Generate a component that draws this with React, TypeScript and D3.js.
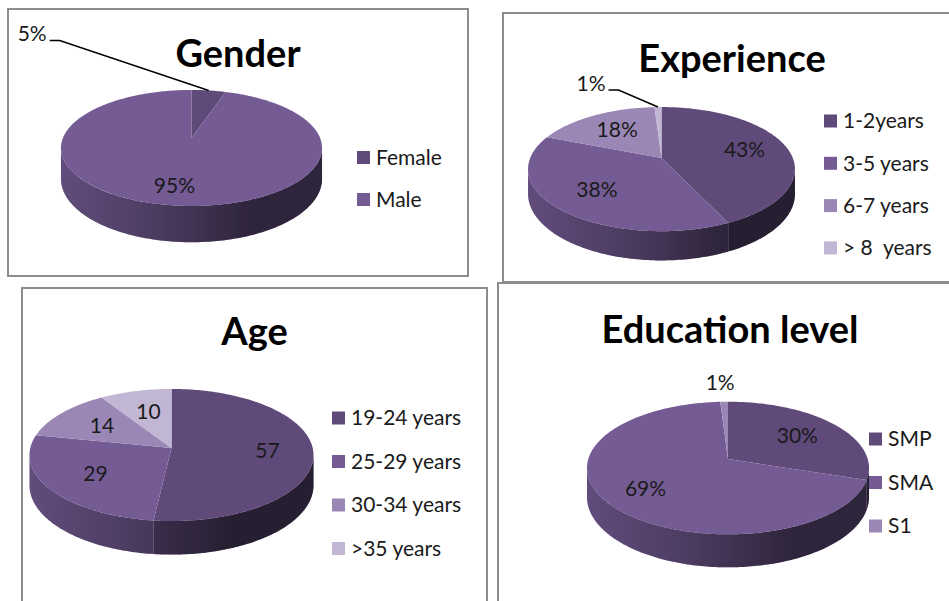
import React, { useEffect, useRef } from 'react';
import * as d3 from 'd3';

// four 3D-looking pies, Excel style

const genderNames = ['Female', 'Male'];
const genderValues = [5, 95];

const experienceNames = ['1-2years', '3-5 years', '6-7 years', '> 8  years'];
const experienceValues = [43, 38, 18, 1];

const ageNames = ['19-24 years', '25-29 years', '30-34 years', '>35 years'];
const ageValues = [57, 29, 14, 10];

const educationNames = ['SMP', 'SMA', 'S1'];
const educationValues = [30, 69, 1];

const purples = ['#5f4a7a', '#745b94', '#9b87b6', '#c1b6d3'];

const panels = [
  {
    id: 'gender', title: 'Gender', names: genderNames, values: genderValues, pct: true,
    box: [8, 9, 460, 267], titleX: 238, titleY: 67,
    pie: { cx: 191.5, cy: 138, a: 128.6, b: 56.3, k: 0.172, depth: 30 },
    legend: { x: 357, y: 157.5, gap: 42 }, leader: [-149, -50],
  },
  {
    id: 'experience', title: 'Experience', names: experienceNames, values: experienceValues, pct: true,
    box: [503, 13, 460, 269], titleX: 732, titleY: 72,
    pie: { cx: 661.5, cy: 158, a: 131.3, b: 60.1, k: 0.179, depth: 24 },
    legend: { x: 824, y: 121, gap: 42.3 }, leader: [-39.5, -17],
  },
  {
    id: 'age', title: 'Age', names: ageNames, values: ageValues, pct: false,
    box: [22, 288, 465, 330], titleX: 254.5, titleY: 345,
    pie: { cx: 171.5, cy: 448, a: 141.2, b: 65.3, k: 0.106, depth: 30 },
    legend: { x: 332, y: 418, gap: 43.5 }, leader: null,
  },
  {
    id: 'education', title: 'Education level', names: educationNames, values: educationValues, pct: true,
    box: [498, 283, 470, 330], titleX: 730, titleY: 343,
    pie: { cx: 728, cy: 459, a: 139.7, b: 65.1, k: 0.136, depth: 28.5 },
    legend: { x: 869, y: 439, gap: 43.5 }, leader: null,
  },
];

const FONT = 'Lato, "Open Sans", sans-serif';

// perspective projection of a point on the unit disc (t clockwise from top)
const project = (p, t, r, h) => {
  const u = Math.sin(t) * r;
  const v = -Math.cos(t) * r;
  const w = 1 - p.k * v;
  return [p.cx + (p.a * u) / w, p.cy + (p.b * v + h) / w];
};

const arcPoints = (p, t0, t1, h) => {
  const n = Math.max(2, Math.ceil(((t1 - t0) * 180) / Math.PI));
  return d3.range(n + 1).map(i => project(p, t0 + ((t1 - t0) * i) / n, 1, h));
};

const App = () => {
  const svgRef = useRef(null);

  useEffect(() => {
    const svg = d3.select(svgRef.current);
    svg.selectAll('*').remove();
    const defs = svg.append('defs');
    const line = d3.line();

    panels.forEach(panel => {
      const p = panel.pie;
      const g = svg.append('g');

      g.append('rect')
        .attr('x', panel.box[0]).attr('y', panel.box[1])
        .attr('width', panel.box[2]).attr('height', panel.box[3])
        .attr('fill', 'none').attr('stroke', '#8c8c8c').attr('stroke-width', 2);

      g.append('text')
        .attr('x', panel.titleX).attr('y', panel.titleY)
        .attr('text-anchor', 'middle')
        .attr('font-family', FONT).attr('font-weight', 700).attr('font-size', 38)
        .attr('fill', '#000')
        .text(panel.title);

      const arcs = d3.pie().sort(null).value(d => d)(panel.values);
      const total = d3.sum(panel.values);

      // side shading gradient
      const gid = `shade-${panel.id}`;
      const grad = defs.append('linearGradient').attr('id', gid)
        .attr('gradientUnits', 'userSpaceOnUse')
        .attr('x1', p.cx - p.a * 1.03).attr('x2', p.cx + p.a * 1.03)
        .attr('y1', 0).attr('y2', 0);
      [[0, 0.16], [0.35, 0.34], [0.5, 0.44], [0.72, 0.6], [1, 0.6]].forEach(([o, a]) => {
        grad.append('stop').attr('offset', o).attr('stop-color', '#000').attr('stop-opacity', a);
      });

      const tR = Math.acos(-p.k);
      const tL = 2 * Math.PI - tR;

      arcs.forEach((d, i) => {
        const s = Math.max(d.startAngle, tR);
        const e = Math.min(d.endAngle, tL);
        if (s >= e) return;
        const pts = arcPoints(p, s, e, 0).concat(arcPoints(p, s, e, p.depth).reverse());
        g.append('path').attr('d', line(pts) + 'Z').attr('fill', purples[i]);
        g.append('path').attr('d', line(pts) + 'Z').attr('fill', `url(#${gid})`);
      });

      arcs.forEach((d, i) => {
        const pts = [[p.cx, p.cy]].concat(arcPoints(p, d.startAngle, d.endAngle, 0));
        g.append('path').attr('d', line(pts) + 'Z').attr('fill', purples[i]);
      });

      // data labels
      arcs.forEach(d => {
        const share = d.value / total;
        const mid = (d.startAngle + d.endAngle) / 2;
        const txt = panel.pct ? `${d.value}%` : `${d.value}`;
        const label = g.append('text')
          .attr('font-family', FONT).attr('font-size', 21).attr('fill', '#1a1a1a')
          .text(txt);
        if (share < 0.06) {
          const [ex, ey] = project(p, mid, 1, 0);
          if (panel.leader) {
            const [dx, dy] = panel.leader;
            g.append('path')
              .attr('d', line([[ex, ey], [ex + dx, ey + dy], [ex + dx - 10, ey + dy]]))
              .attr('fill', 'none').attr('stroke', '#000').attr('stroke-width', 1.5);
            label.attr('x', ex + dx - 13).attr('y', ey + dy + 1).attr('text-anchor', 'end');
          } else {
            label.attr('x', ex - 4).attr('y', ey - 19).attr('dy', '0.35em').attr('text-anchor', 'middle');
          }
        } else {
          const [lx, ly] = project(p, mid, 0.6 + 0.15 * share, 0);
          label.attr('x', lx).attr('y', ly).attr('dy', '0.35em').attr('text-anchor', 'middle');
        }
      });

      // legend
      panel.names.forEach((name, i) => {
        const y = panel.legend.y + i * panel.legend.gap;
        g.append('rect')
          .attr('x', panel.legend.x).attr('y', y - 6.5)
          .attr('width', 13).attr('height', 13)
          .attr('fill', purples[i]);
        g.append('text')
          .attr('x', panel.legend.x + 19).attr('y', y).attr('dy', '0.35em')
          .attr('font-family', FONT).attr('font-size', 21).attr('fill', '#1a1a1a')
          .style('white-space', 'pre')
          .text(name);
      });
    });
  }, []);

  return (
    <svg
      ref={svgRef}
      width="949"
      height="601"
      style={{ position: 'absolute', left: 0, top: 0, background: '#fff', display: 'block' }}
    />
  );
};

export default App;
